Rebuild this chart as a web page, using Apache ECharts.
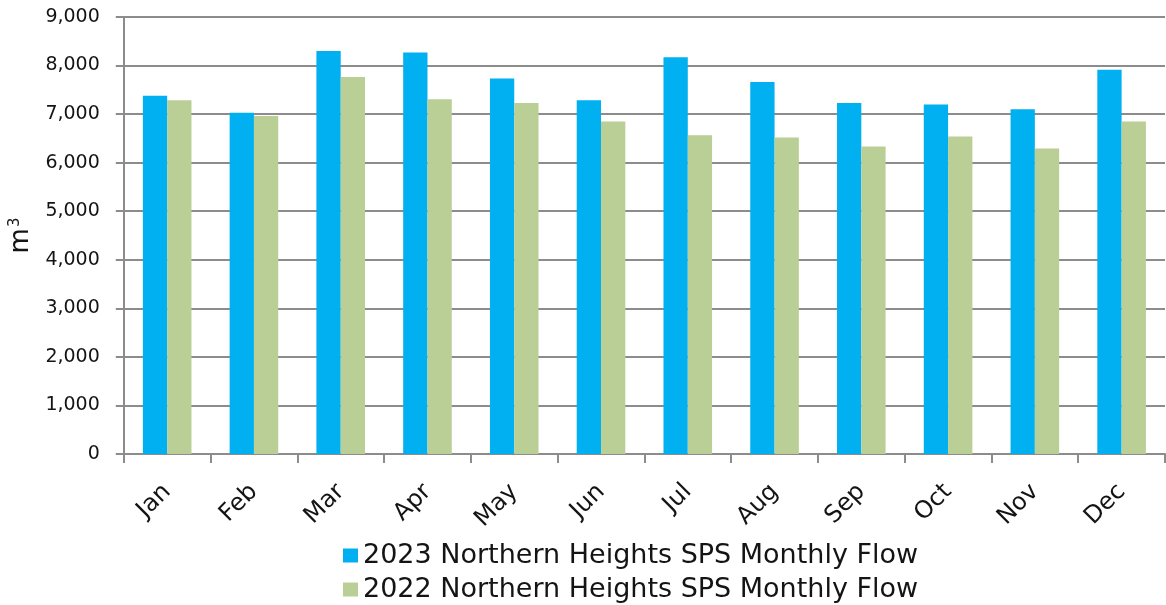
<!DOCTYPE html>
<html>
<head>
<meta charset="utf-8">
<script src="https://cdn.jsdelivr.net/npm/echarts@6/dist/echarts.min.js"></script>
<style>
  html, body { margin: 0; padding: 0; background: #fff; }
  #chart { width: 1166px; height: 605px; }
</style>
</head>
<body>
<div id="chart"></div>
<script>
const months = ["Jan", "Feb", "Mar", "Apr", "May", "Jun", "Jul", "Aug", "Sep", "Oct", "Nov", "Dec"];
const flow2023 = [7380, 7030, 8300, 8270, 7735, 7285, 8170, 7660, 7230, 7200, 7100, 7915];
const flow2022 = [7285, 6960, 7765, 7305, 7230, 6850, 6565, 6520, 6335, 6540, 6290, 6850];
const seriesNames = ["2023 Northern Heights SPS Monthly Flow", "2022 Northern Heights SPS Monthly Flow"];

const chart = echarts.init(document.getElementById("chart"));
const font = "Verdana, 'DejaVu Sans', sans-serif";
const textColor = "#141414";
const axisGrey = "#8c8c8c";

// one legend per row, stacked like the original
const legendRow = (name, top) => ({
    left: 338,
    top: top,
    itemWidth: 15,
    itemHeight: 14,
    icon: "rect",
    textStyle: { fontSize: 27, color: textColor, fontFamily: font },
    data: [name],
});

chart.setOption({
    animation: false,
    textStyle: { fontFamily: font },
    color: ["#00B0F0", "#B9CF96"],
    grid: { left: 123, right: 1, top: 17, bottom: 151 },
    legend: [legendRow(seriesNames[0], 537), legendRow(seriesNames[1], 571)],
    xAxis: {
        type: "category",
        data: months,
        axisLine: { lineStyle: { color: axisGrey, width: 2 } },
        axisTick: { show: true, length: 9, lineStyle: { color: axisGrey, width: 2 } },
        axisLabel: { rotate: 45, fontSize: 24, color: textColor, margin: 34, fontFamily: font },
    },
    yAxis: {
        type: "value",
        min: 0,
        max: 9000,
        interval: 1000,
        name: "m{s|3}",
        nameLocation: "middle",
        nameRotate: 90,
        nameGap: 83,
        nameTextStyle: {
            fontSize: 26,
            color: textColor,
            fontFamily: font,
            rich: {
                s: { fontSize: 15, color: textColor, fontFamily: font, verticalAlign: "top", padding: [0, 0, 12, 1] },
            },
        },
        axisLine: { show: true, lineStyle: { color: axisGrey, width: 2 } },
        axisTick: { show: true, length: 8, lineStyle: { color: axisGrey, width: 2 } },
        axisLabel: {
            fontSize: 19,
            color: textColor,
            margin: 24,
            fontFamily: font,
            formatter: (v) => v.toLocaleString("en-US"),
        },
        splitLine: { show: true, lineStyle: { color: axisGrey, width: 2 } },
    },
    series: [
        {
            name: seriesNames[0],
            type: "bar",
            data: flow2023,
            barGap: "0%",
            barCategoryGap: "44%",
        },
        {
            name: seriesNames[1],
            type: "bar",
            data: flow2022,
        },
    ],
});
</script>
</body>
</html>
